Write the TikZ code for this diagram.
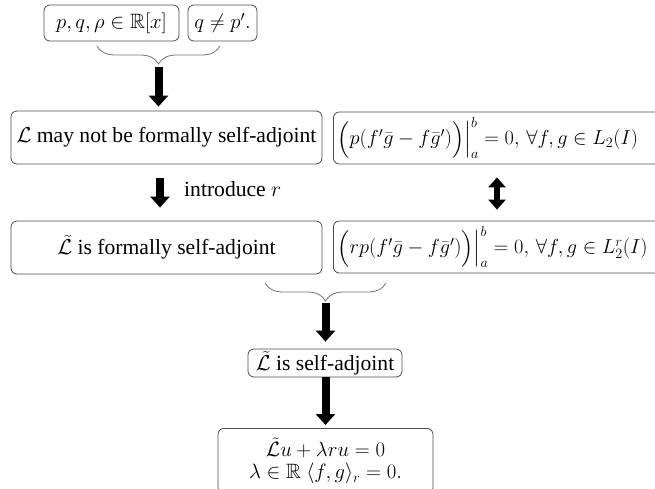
\documentclass[tikz,border=0pt]{standalone}
\usepackage{fix-cm}
\usepackage{amsmath,amssymb}
\usepackage[no-math]{fontspec}
\setmainfont{Liberation Serif}
\usetikzlibrary{arrows.meta,decorations.pathreplacing}
\begin{document}
\begin{tikzpicture}[x=1pt,y=-1pt,
  box/.style={draw=black!70, line width=0.8pt, rounded corners=6pt, inner sep=0pt},
  txt/.style={font=\fontsize{21.6}{22.5}\selectfont},
  mth/.style={font=\fontsize{20.74}{22.5}\selectfont},
  brc/.style={draw=black!55, line width=0.8pt, decorate,
    decoration={brace,mirror,amplitude=18pt}},
  bigarrow/.style={line width=8pt, -{Triangle[length=11pt,width=19pt]}},
  dblarrow/.style={line width=6pt, {Triangle[length=10pt,width=17pt]}-{Triangle[length=10pt,width=17pt]}},
  lbl/.style={txt, inner sep=0pt}]
\useasboundingbox (0,0) rectangle (655,489);
\clip (0,0) rectangle (655,489);
% top boxes
\node[box, mth, minimum width=135, minimum height=36] (b1) at (111.5,23) {$p,q,\rho\in\mathbb{R}[x]$};
\node[box, mth, minimum width=69, minimum height=36] (b2) at (222.5,23) {$q\neq p'.$};
\draw[brc] (97,46) -- (220,46);
\coordinate (t1) at (158.5,64);
% middle boxes
\node[box, txt, minimum width=311, minimum height=53] (b3) at (166.5,137.5) {$\mathcal{L}$ may not be formally self-adjoint};
\node[box, txt, minimum width=311, minimum height=53] (b4) at (166.5,247.5) {$\tilde{\mathcal{L}}$ is formally self-adjoint};
\node[box, font=\fontsize{20.3}{22}\selectfont, anchor=west, minimum height=52, text width=345, inner xsep=3pt, align=left] (b5) at (333,138)
  {$\left.\Big(p(f'\bar g-f\bar g')\Big)\right|_a^b=0,\,\forall f,g\in L_2(I)$};
\node[box, font=\fontsize{20.3}{22}\selectfont, anchor=west, minimum height=52, text width=345, inner xsep=3pt, align=left] (b6) at (333,247)
  {$\left.\Big(rp(f'\bar g-f\bar g')\Big)\right|_a^b=0,\,\forall f,g\in L_2^r(I)$};
\draw[brc] (265,283) -- (386,283);
\coordinate (t2) at (325.5,301);
% lower boxes
\node[box, txt, minimum width=154, minimum height=28] (b7) at (325,363) {$\tilde{\mathcal{L}}$ is self-adjoint};
\node[box, mth, anchor=north, minimum width=215, minimum height=65, align=center] (b8) at (325.5,428)
  {$\tilde{\mathcal{L}}u+\lambda r u=0$\\ $\lambda\in\mathbb{R}\ \langle f,g\rangle_r=0.$};
% arrows
\draw[bigarrow, shorten <=3pt, shorten >=4pt] (t1) -- (b3.north -| t1);
\draw[bigarrow, shorten <=14pt, shorten >=13pt] ([xshift=-6.5pt]b3.south) -- ([xshift=-6.5pt]b4.north);
\node[lbl, anchor=west] (lab) at (184,189) {introduce $r$};
\draw[dblarrow, shorten <=13pt, shorten >=11pt] ([xshift=164pt]b5.south west) -- ([xshift=164pt]b6.north west);
\draw[bigarrow, shorten <=2pt, shorten >=7pt] (t2) -- (b7.north -| t2);
\draw[bigarrow, shorten >=3pt] (b7.south -| t2) -- (b8.north -| t2);
\end{tikzpicture}
\end{document}
